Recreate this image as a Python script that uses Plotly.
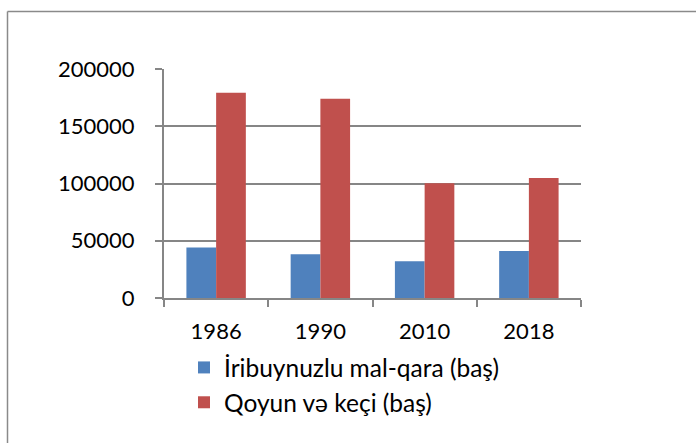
import plotly.graph_objects as go

years = ["1986", "1990", "2010", "2018"]
cattle = [44000, 38200, 32100, 41100]
sheep_goats = [179300, 174000, 100300, 104700]
series_names = ["İribuynuzlu mal-qara (baş)", "Qoyun və keçi (baş)"]
y_ticks = [0, 50000, 100000, 150000, 200000]

fig = go.Figure()
fig.add_trace(go.Bar(x=years, y=cattle, name=series_names[0], marker_color="#4F81BD",
                     marker_line_width=0))
fig.add_trace(go.Bar(x=years, y=sheep_goats, name=series_names[1], marker_color="#C0504D",
                     marker_line_width=0))

W, H = 696, 443
L, R, T, B = 164, 115, 69, 145
pw, ph = W - L - R, H - T - B

def px_x(p):
    return (p - L) / pw

def px_y(p):
    return (H - B - p) / ph

fig.update_layout(
    width=W, height=H,
    margin=dict(l=L, r=R, t=T, b=B, autoexpand=False),
    paper_bgcolor="white", plot_bgcolor="white",
    barmode="group", bargap=0.43, bargroupgap=0,
    font=dict(family="Lato, Carlito, sans-serif", size=22, color="black"),
    showlegend=True,
    legend=dict(orientation="v", x=px_x(184), y=px_y(345), xanchor="left", yanchor="top",
                font=dict(size=24.5), itemwidth=30, tracegroupgap=0, bgcolor="rgba(0,0,0,0)"),
    xaxis=dict(type="category", showgrid=False, showline=True, linecolor="#868686", linewidth=2,
               ticks="outside", tickson="boundaries", ticklen=7, tickcolor="#868686", tickwidth=2,
               tickfont=dict(size=22), ticklabelstandoff=13),
    yaxis=dict(range=[0, 200000], tickvals=y_ticks, ticktext=[str(v) for v in y_ticks],
               showgrid=True, gridcolor="#868686", gridwidth=2, zeroline=False,
               showline=True, linecolor="#868686", linewidth=2,
               ticks="outside", ticklen=7, tickcolor="#868686", tickwidth=2,
               tickfont=dict(size=22), ticklabelstandoff=16),
    shapes=[
        dict(type="line", xref="paper", yref="paper", x0=px_x(7.5), x1=px_x(700), y0=px_y(11.5), y1=px_y(11.5),
             line=dict(color="#8a8a8a", width=1.5)),
        dict(type="line", xref="paper", yref="paper", x0=px_x(7.5), x1=px_x(7.5), y0=px_y(11.5), y1=px_y(450),
             line=dict(color="#8a8a8a", width=1.5)),
    ],
)

fig.write_html("out.html", config={"displayModeBar": False},
               post_script="document.body.style.margin='0px';document.body.style.overflow='hidden';")
